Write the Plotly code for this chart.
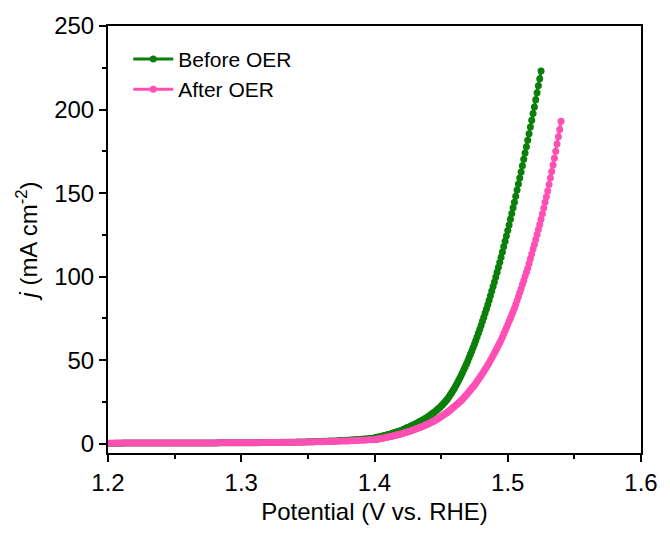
import plotly.graph_objects as go

# Potential grid (V vs. RHE): 2 mV steps from 1.200 to 1.398, then 1 mV steps from 1.400
grid_coarse = [round(1.2 + 0.002 * i, 3) for i in range(100)]

# ---------------- Before OER (green) ----------------
before_flat = [
    0.38, 0.39, 0.39, 0.40, 0.40, 0.40, 0.41, 0.41, 0.41, 0.42,
    0.42, 0.42, 0.43, 0.43, 0.43, 0.44, 0.44, 0.44, 0.45, 0.45,
    0.45, 0.46, 0.46, 0.46, 0.47, 0.47, 0.48, 0.48, 0.48, 0.49,
    0.49, 0.50, 0.50, 0.51, 0.51, 0.52, 0.52, 0.53, 0.53, 0.54,
    0.55, 0.55, 0.56, 0.57, 0.57, 0.58, 0.59, 0.60, 0.61, 0.62,
    0.63, 0.64, 0.65, 0.66, 0.67, 0.68, 0.70, 0.71, 0.73, 0.74,
    0.76, 0.78, 0.80, 0.82, 0.84, 0.86, 0.89, 0.91, 0.94, 0.97,
    1.00, 1.03, 1.07, 1.10, 1.14, 1.18, 1.22, 1.27, 1.32, 1.37,
    1.42, 1.48, 1.54, 1.61, 1.68, 1.75, 1.83, 1.91, 2.00, 2.09,
    2.19, 2.29, 2.40, 2.51, 2.63, 2.76, 2.89, 3.03, 3.18, 3.34,
]
before_rise = [
    3.5, 3.7, 3.9, 4.0, 4.2,
    4.4, 4.6, 4.8, 5.0, 5.2,
    5.4, 5.6, 5.9, 6.1, 6.4,
    6.6, 6.9, 7.2, 7.4, 7.7,
    8.0, 8.3, 8.7, 9.0, 9.4,
    9.7, 10.1, 10.5, 10.8, 11.2,
    11.6, 12.0, 12.4, 12.9, 13.3,
    13.7, 14.2, 14.6, 15.1, 15.6,
    16.1, 16.6, 17.2, 17.8, 18.4,
    19.0, 19.7, 20.4, 21.1, 21.8,
    22.6, 23.4, 24.3, 25.2, 26.1,
    27.1, 28.3, 29.5, 30.7, 32.0,
    33.3, 34.8, 36.3, 37.8, 39.3,
    40.8, 42.5, 44.3, 46.0, 47.8,
    49.6, 51.6, 53.6, 55.6, 57.6,
    59.6, 61.8, 64.1, 66.3, 68.6,
    70.8, 73.3, 75.8, 78.2, 80.7,
    83.2, 85.9, 88.6, 91.4, 94.1,
    96.8, 99.8, 102.7, 105.7, 108.6,
    111.6, 114.8, 118.0, 121.2, 124.4,
    127.6, 131.0, 134.4, 137.8, 141.2,
    144.6, 148.2, 151.8, 155.4, 159.0,
    162.6, 166.4, 170.2, 174.0, 177.8,
    181.6, 185.6, 189.6, 193.6, 197.6,
    201.6, 205.8, 210.0, 214.2, 218.4,
    223.0,
]

# ---------------- After OER (pink) ----------------
after_flat = [
    0.40, 0.40, 0.40, 0.41, 0.41, 0.41, 0.42, 0.42, 0.42, 0.42,
    0.43, 0.43, 0.43, 0.44, 0.44, 0.44, 0.45, 0.45, 0.45, 0.46,
    0.46, 0.46, 0.47, 0.47, 0.47, 0.48, 0.48, 0.49, 0.49, 0.49,
    0.50, 0.50, 0.51, 0.51, 0.52, 0.52, 0.53, 0.53, 0.54, 0.54,
    0.55, 0.56, 0.56, 0.57, 0.58, 0.58, 0.59, 0.60, 0.61, 0.61,
    0.62, 0.63, 0.64, 0.65, 0.66, 0.67, 0.68, 0.69, 0.71, 0.72,
    0.73, 0.75, 0.76, 0.78, 0.80, 0.81, 0.83, 0.85, 0.87, 0.90,
    0.92, 0.95, 0.97, 1.00, 1.03, 1.06, 1.09, 1.12, 1.16, 1.20,
    1.24, 1.28, 1.32, 1.37, 1.41, 1.46, 1.52, 1.57, 1.63, 1.69,
    1.75, 1.82, 1.89, 1.96, 2.04, 2.12, 2.20, 2.28, 2.37, 2.46,
]
after_rise = [
    2.5, 2.6, 2.8, 2.9, 3.1,
    3.2, 3.4, 3.5, 3.7, 3.8,
    4.0, 4.2, 4.4, 4.5, 4.7,
    4.9, 5.1, 5.3, 5.5, 5.7,
    5.9, 6.1, 6.4, 6.6, 6.9,
    7.2, 7.4, 7.7, 7.9, 8.2,
    8.5, 8.8, 9.1, 9.5, 9.8,
    10.1, 10.4, 10.8, 11.1, 11.5,
    11.8, 12.2, 12.6, 13.0, 13.4,
    13.8, 14.3, 14.8, 15.3, 15.8,
    16.3, 16.9, 17.4, 18.0, 18.5,
    19.1, 19.7, 20.4, 21.0, 21.7,
    22.3, 23.0, 23.7, 24.4, 25.1,
    25.8, 26.7, 27.6, 28.5, 29.4,
    30.3, 31.3, 32.2, 33.2, 34.1,
    35.1, 36.2, 37.4, 38.5, 39.7,
    40.8, 42.1, 43.3, 44.6, 45.8,
    47.1, 48.5, 50.0, 51.4, 52.9,
    54.3, 55.9, 57.4, 59.0, 60.5,
    62.1, 63.9, 65.8, 67.6, 69.5,
    71.3, 73.3, 75.2, 77.2, 79.1,
    81.1, 83.4, 85.8, 88.1, 90.5,
    92.8, 95.3, 97.7, 100.2, 102.6,
    105.1, 107.9, 110.8, 113.6, 116.5,
    119.3, 122.3, 125.3, 128.3, 131.3,
    134.3, 137.7, 141.1, 144.5, 147.9,
    151.3, 155.2, 159.1, 163.0, 166.9,
    170.8, 175.1, 179.4, 183.7, 188.0,
    193.0,
]

before_x = grid_coarse + [round(1.4 + 0.001 * i, 3) for i in range(len(before_rise))]
after_x = grid_coarse + [round(1.4 + 0.001 * i, 3) for i in range(len(after_rise))]
before_j = before_flat + before_rise
after_j = after_flat + after_rise

series_names = ["Before OER", "After OER"]
series_colors = ["#0a7f0a", "#ff4fb4"]

x_ticks = [1.2, 1.3, 1.4, 1.5, 1.6]
y_ticks = [0, 50, 100, 150, 200, 250]

FONT = "Liberation Sans, Arial, sans-serif"

fig = go.Figure()
for name, xs, ys, col in [
    (series_names[0], before_x, before_j, series_colors[0]),
    (series_names[1], after_x, after_j, series_colors[1]),
]:
    fig.add_trace(go.Scatter(
        x=xs, y=ys, name=name, mode="lines+markers",
        line=dict(color=col, width=3),
        marker=dict(color=col, size=7, symbol="circle"),
    ))

axis_common = dict(
    showline=True, linecolor="black", linewidth=2, mirror=True,
    ticks="outside", ticklen=7, tickwidth=2, tickcolor="black",
    showgrid=False, zeroline=False,
    tickfont=dict(family=FONT, size=24, color="black"),
)

fig.update_layout(
    width=670, height=533,
    margin=dict(l=108, r=23, t=25, b=74),
    paper_bgcolor="white", plot_bgcolor="white",
    font=dict(family=FONT, size=24, color="black"),
    xaxis=dict(
        range=[1.2, 1.6], tickvals=x_ticks, ticktext=[f"{v:.1f}" for v in x_ticks],
        minor=dict(ticks="outside", ticklen=4, tickwidth=2, tickcolor="black", dtick=0.05, tick0=1.2),
        title=dict(text="Potential (V vs. RHE)", font=dict(family=FONT, size=24), standoff=8),
        **axis_common,
    ),
    yaxis=dict(
        range=[-5.5, 250], tickvals=y_ticks,
        minor=dict(ticks="outside", ticklen=4, tickwidth=2, tickcolor="black", dtick=25, tick0=0),
        title=dict(text="<i>j</i> (mA cm<sup>-2</sup>)", font=dict(family=FONT, size=24), standoff=10),
        **axis_common,
    ),
    legend=dict(
        x=0.038, y=0.97, xanchor="left", yanchor="top",
        bgcolor="rgba(0,0,0,0)", borderwidth=0,
        font=dict(family=FONT, size=21, color="black"),
        tracegroupgap=0, itemwidth=40,
    ),
    showlegend=True,
)

fig.write_html("out.html")
